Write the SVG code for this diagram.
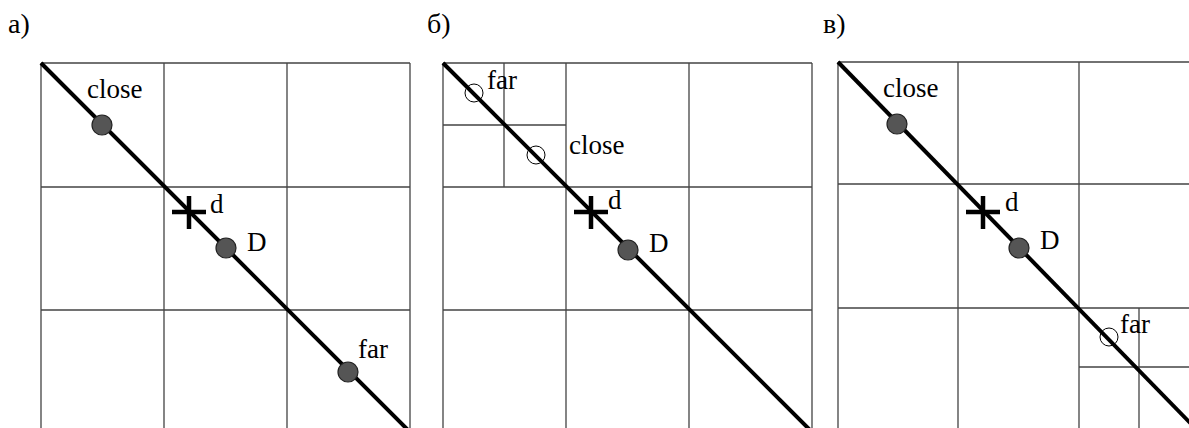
<svg xmlns="http://www.w3.org/2000/svg" width="1189" height="428" viewBox="0 0 1189 428">
<defs>
<circle id="dot" r="10" fill="#555" stroke="#222" stroke-width="1.2"/>
<circle id="ring" r="9" fill="none" stroke="#000" stroke-width="1"/>
<path id="cross" d="M-17,0H17M0,-16V17" fill="none" stroke="#000" stroke-width="4.5"/>
</defs>
<rect width="1189" height="428" fill="#fff"/>
<text x="8" y="33" font-size="28" font-family="Times New Roman">а)</text>
<text x="427" y="33" font-size="28" font-family="Times New Roman">б)</text>
<text x="823" y="33" font-size="28" font-family="Times New Roman">в)</text>

<g fill="none" stroke="#444" stroke-width="1.3">
<g id="panel-a">
<path d="M41,63H410M41,187H410M41,310H410M41,63V433M164,63V433M287,63V433M410,63V433"/>
</g>
<g id="panel-b">
<path d="M443,63H812M443,187H812M443,310H812M443,63V433M566,63V433M689,63V433M812,63V433M504,63V187M443,125H566"/>
</g>
<g id="panel-c">
<path d="M838,62H1199M838,184H1199M838,308H1199M838,62V432M958,62V432M1079,62V432M1079,367H1199M1139,308V432"/>
</g>
</g>

<g id="connectors" stroke="#000" stroke-width="4" fill="none">
<line x1="41" y1="63" x2="410" y2="432"/>
<line x1="443" y1="63" x2="812" y2="432"/>
<line x1="838" y1="62" x2="1199" y2="432"/>
</g>

<g id="a-close"><use href="#dot" x="102" y="125"/><text x="87" y="98" font-size="27" font-family="Times New Roman">close</text></g>
<g id="a-d"><use href="#cross" x="189" y="212"/><text x="210" y="213" font-size="27" font-family="Times New Roman">d</text></g>
<g id="a-D"><use href="#dot" x="226" y="248"/><text x="247" y="251" font-size="27" font-family="Times New Roman">D</text></g>
<g id="a-far"><use href="#dot" x="348" y="372"/><text x="358" y="358" font-size="27" font-family="Times New Roman">far</text></g>

<g id="b-far"><use href="#ring" x="474" y="93"/><text x="487" y="89" font-size="27" font-family="Times New Roman">far</text></g>
<g id="b-close"><use href="#ring" x="536" y="155"/><text x="569" y="154" font-size="27" font-family="Times New Roman">close</text></g>
<g id="b-d"><use href="#cross" x="591" y="212"/><text x="608" y="209" font-size="27" font-family="Times New Roman">d</text></g>
<g id="b-D"><use href="#dot" x="628" y="250"/><text x="649" y="252" font-size="27" font-family="Times New Roman">D</text></g>

<g id="c-close"><use href="#dot" x="897" y="124"/><text x="883" y="97" font-size="27" font-family="Times New Roman">close</text></g>
<g id="c-d"><use href="#cross" x="983" y="212"/><text x="1005" y="211" font-size="27" font-family="Times New Roman">d</text></g>
<g id="c-D"><use href="#dot" x="1019" y="248"/><text x="1040" y="249" font-size="27" font-family="Times New Roman">D</text></g>
<g id="c-far"><use href="#ring" x="1109" y="337"/><text x="1120" y="333" font-size="27" font-family="Times New Roman">far</text></g>
</svg>
